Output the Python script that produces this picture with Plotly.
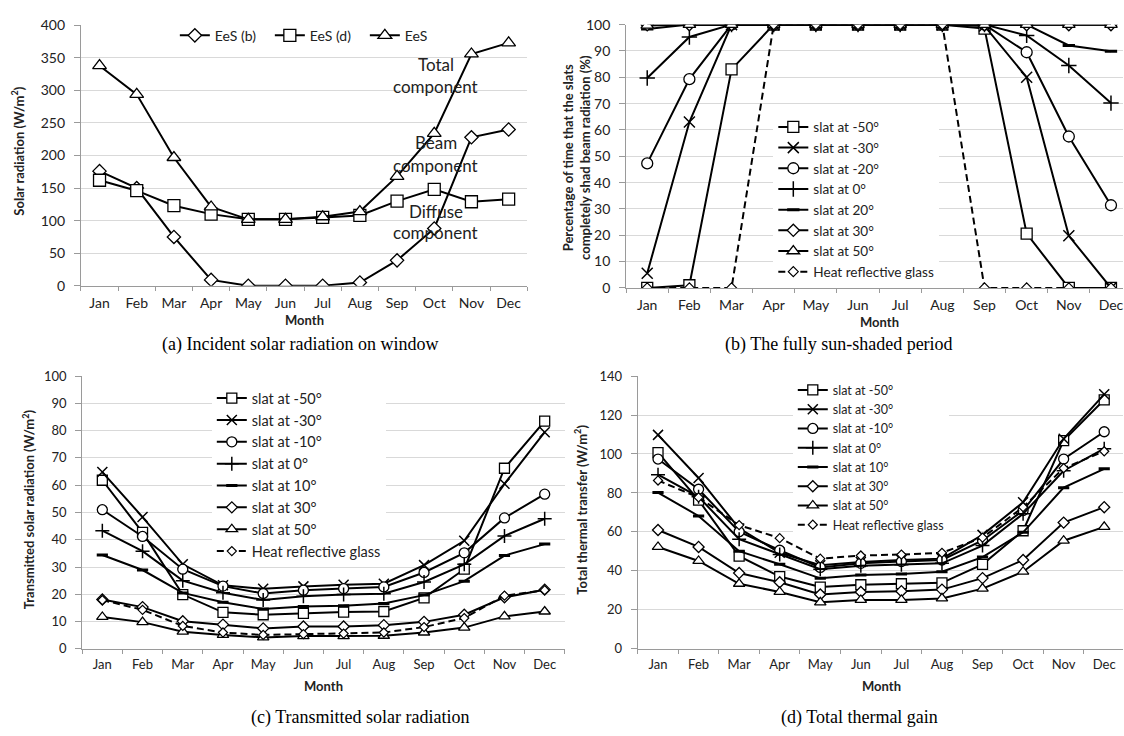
import plotly.graph_objects as go

months = ["Jan", "Feb", "Mar", "Apr", "May", "Jun", "Jul", "Aug", "Sep", "Oct", "Nov", "Dec"]

# ---------- (a) Incident solar radiation on window ----------
a_names = ["EeS (b)", "EeS (d)", "EeS"]
a_beam = [176, 150, 75, 9, 0, 0, 0, 5, 39, 88, 228, 240]
a_diffuse = [162, 146, 123, 110, 102, 102, 105, 108, 130, 148, 129, 133]
a_total = [338, 294, 197, 121, 102, 102, 106, 114, 168, 234, 356, 373]

# ---------- (b) fully sun-shaded period (%) ----------
b_names = ["slat at -50°", "slat at -30°", "slat at -20°", "slat at 0°",
           "slat at 20°", "slat at 30°", "slat at 50°", "Heat reflective glass"]
b_m50 = [0, 1, 83, 100, 100, 100, 100, 100, 98.5, 20.6, 0, 0]
b_m30 = [5.6, 63, 100, 100, 100, 100, 100, 100, 99.5, 80, 19.8, 0]
b_m20 = [47.3, 79.3, 100, 100, 100, 100, 100, 100, 100, 89.5, 57.5, 31.4]
b_0 = [79.7, 95.3, 100, 100, 100, 100, 100, 100, 100, 95.9, 84.5, 70.2]
b_20 = [98.3, 100, 100, 100, 100, 100, 100, 100, 100, 100, 92.1, 89.9]
b_30 = [100, 100, 100, 100, 100, 100, 100, 100, 100, 100, 100, 100]
b_50 = [99.7, 100, 100, 100, 100, 100, 100, 100, 100, 100, 100, 100]
b_hrg = [0, 0, 0, 100, 100, 100, 100, 100, 0, 0, 0, 0]

# ---------- (c) Transmitted solar radiation ----------
c_names = ["slat at -50°", "slat at -30°", "slat at -10°", "slat at 0°",
           "slat at 10°", "slat at 30°", "slat at 50°", "Heat reflective glass"]
c_m50 = [61.8, 42.7, 19.9, 13.4, 12.5, 13.0, 13.5, 13.7, 18.7, 29.2, 66.2, 83.5]
c_m30 = [64.8, 48.3, 31.0, 23.3, 22.0, 22.9, 23.5, 23.9, 30.7, 39.6, 60.5, 79.4]
c_m10 = [51.0, 41.2, 29.2, 23.0, 20.3, 21.5, 22.1, 22.7, 28.0, 35.2, 48.0, 56.7]
c_0 = [43.3, 35.8, 25.0, 20.6, 17.9, 19.3, 19.9, 20.2, 24.5, 31.0, 41.4, 47.7]
c_10 = [34.4, 28.9, 20.5, 17.1, 14.6, 15.5, 15.8, 16.6, 19.7, 24.8, 34.2, 38.4]
c_30 = [18.1, 15.3, 10.1, 8.9, 7.5, 8.2, 8.2, 8.7, 9.9, 12.5, 18.9, 21.7]
c_50 = [11.7, 9.8, 6.3, 5.1, 4.2, 4.7, 4.7, 4.8, 6.0, 7.8, 11.9, 13.7]
c_hrg = [17.9, 14.3, 8.4, 6.0, 5.1, 5.4, 5.6, 6.0, 8.0, 11.3, 19.5, 21.5]

# ---------- (d) Total thermal gain ----------
d_names = c_names
d_m50 = [100.7, 76.3, 47.6, 37.1, 31.7, 32.9, 33.4, 33.9, 43.4, 60.6, 106.9, 127.8]
d_m30 = [109.8, 87.7, 61.8, 49.3, 42.9, 44.6, 45.6, 46.3, 58.5, 75.2, 107.8, 130.6]
d_m10 = [97.4, 81.9, 60.1, 50.6, 41.8, 43.9, 44.8, 45.6, 55.6, 71.0, 97.4, 111.4]
d_0 = [89.4, 78.0, 56.3, 48.4, 40.9, 42.6, 43.1, 43.9, 53.0, 69.3, 91.4, 102.7]
d_10 = [80.2, 68.2, 50.1, 43.4, 36.2, 37.9, 38.4, 39.6, 47.1, 59.8, 82.7, 92.4]
d_30 = [61.0, 52.3, 38.9, 34.2, 27.9, 29.2, 29.6, 30.4, 36.3, 45.6, 64.8, 72.7]
d_50 = [52.3, 45.1, 33.4, 29.2, 23.9, 25.1, 25.1, 25.9, 30.9, 39.6, 55.5, 62.6]
d_hrg = [86.4, 77.7, 63.5, 56.8, 46.3, 47.9, 48.4, 49.3, 57.1, 72.7, 92.7, 101.4]

captions = ["(a) Incident solar radiation on window", "(b) The fully sun-shaded period",
            "(c) Transmitted solar radiation", "(d) Total thermal gain"]

FONT = "Lato"
BLACK = "#000000"
GRID = "#d9d9d9"
AXIS = "#9a9a9a"
W, H = 1124, 736


def marker_style(kind, size):
    if kind == "square":
        return dict(symbol="square", size=size, color="white", line=dict(color=BLACK, width=1.3))
    if kind == "x":
        return dict(symbol="x-thin", size=size, color=BLACK, line=dict(color=BLACK, width=1.5))
    if kind == "circle":
        return dict(symbol="circle", size=size, color="white", line=dict(color=BLACK, width=1.3))
    if kind == "plus":
        return dict(symbol="cross-thin", size=size, color=BLACK, line=dict(color=BLACK, width=1.5))
    if kind == "dash":
        return dict(symbol="line-ew", size=size * 0.8, color=BLACK, line=dict(color=BLACK, width=3))
    if kind == "diamond":
        return dict(symbol="diamond", size=size * 0.85, color="white", line=dict(color=BLACK, width=1.3))
    if kind == "triangle":
        return dict(symbol="triangle-up", size=size, color="white", line=dict(color=BLACK, width=1.3))
    if kind == "hrg":
        return dict(symbol="diamond", size=size * 0.7, color="white", line=dict(color=BLACK, width=1.2))


fig = go.Figure()


def add(x_ax, y_ax, name, vals, kind, size, legend):
    dash = "7px,4px" if kind == "hrg" else "solid"
    fig.add_trace(go.Scatter(
        x=months, y=vals, name=name, mode="lines+markers",
        line=dict(color=BLACK, width=2, dash=dash),
        marker=marker_style(kind, size),
        xaxis=x_ax, yaxis=y_ax, legend=legend, showlegend=True,
    ))


slat_kinds = ["square", "x", "circle", "plus", "dash", "diamond", "triangle", "hrg"]

for name, vals, kind in zip(a_names, [a_beam, a_diffuse, a_total], ["diamond", "square", "triangle"]):
    add("x", "y", name, vals, kind, 12, "legend")
for name, vals, kind in zip(b_names, [b_m50, b_m30, b_m20, b_0, b_20, b_30, b_50, b_hrg], slat_kinds):
    add("x2", "y2", name, vals, kind, 11, "legend2")
for name, vals, kind in zip(c_names, [c_m50, c_m30, c_m10, c_0, c_10, c_30, c_50, c_hrg], slat_kinds):
    add("x3", "y3", name, vals, kind, 10, "legend3")
for name, vals, kind in zip(d_names, [d_m50, d_m30, d_m10, d_0, d_10, d_30, d_50, d_hrg], slat_kinds):
    add("x4", "y4", name, vals, kind, 10, "legend4")


def px_x(p):
    return p / W


def px_y(p):
    return 1 - p / H


def xaxis(domain, rng, fs):
    return dict(domain=domain, range=rng, type="category", showgrid=False, showline=True,
                linecolor=AXIS, linewidth=1, ticks="outside", tickson="boundaries", ticklen=4,
                tickcolor=AXIS, tickfont=dict(family=FONT, size=fs, color="#222"),
                ticklabelstandoff=4, fixedrange=True)


def yaxis(domain, rng, dtick, fs, anchor):
    return dict(domain=domain, range=rng, dtick=dtick, showgrid=True, gridcolor=GRID, gridwidth=1,
                showline=True, linecolor=AXIS, linewidth=1, ticks="outside", ticklen=6,
                tickcolor=AXIS, zeroline=False, tickfont=dict(family=FONT, size=fs, color="#222"),
                ticklabelstandoff=6, anchor=anchor, fixedrange=True)


legend_common = dict(bgcolor="white", borderwidth=0, xanchor="left", yanchor="top",
                     tracegroupgap=0, itemclick=False)

fig.update_layout(
    width=W, height=H, margin=dict(l=0, r=0, t=0, b=0),
    paper_bgcolor="white", plot_bgcolor="white",
    font=dict(family=FONT, color=BLACK),
    hovermode=False,
    xaxis=xaxis([px_x(81), px_x(527.7)], [-0.5, 11.5], 14) | dict(anchor="y"),
    yaxis=yaxis([px_y(283.3), px_y(16.7)], [0, 400], 50, 14, "x"),
    xaxis2=xaxis([px_x(626.7), 1.0], [-0.5, 11.285], 14) | dict(anchor="y2"),
    yaxis2=yaxis([px_y(285.5), px_y(16)], [0, 100], 10, 14, "x2"),
    xaxis3=xaxis([px_x(82.3), px_x(565.3)], [-0.5, 11.5], 13) | dict(anchor="y3"),
    yaxis3=yaxis([px_y(655), px_y(375.7)], [0, 100], 10, 13, "x3"),
    xaxis4=xaxis([px_x(638.3), 1.0], [-0.5, 11.463], 13) | dict(anchor="y4"),
    yaxis4=yaxis([px_y(655), px_y(375.7)], [0, 140], 20, 13, "x4"),
    legend=legend_common | dict(orientation="h", x=px_x(175), y=px_y(11), entrywidth=50,
                                font=dict(family=FONT, size=14, color="#222"), bgcolor="rgba(0,0,0,0)"),
    legend2=legend_common | dict(x=px_x(774), y=px_y(105), font=dict(family=FONT, size=13.6, color="#222")),
    legend3=legend_common | dict(x=px_x(212), y=px_y(382), font=dict(family=FONT, size=14.5, color="#222")),
    legend4=legend_common | dict(x=px_x(793.5), y=px_y(375), font=dict(family=FONT, size=12.5, color="#222")),
    showlegend=True,
)

ann = []


def text(x, y, s, size, bold=False, angle=0, family=FONT, color="#222"):
    ann.append(dict(x=px_x(x), y=px_y(y), xref="paper", yref="paper", text=("<b>%s</b>" % s) if bold else s,
                    showarrow=False, textangle=angle, xanchor="center", yanchor="middle",
                    font=dict(family=family, size=size, color=color)))


# y-axis titles
text(18, 145, "Solar radiation (W/m<sup>2</sup>)", 13, bold=True, angle=-90)
text(577, 152, "Percentage of time that the slats<br>completely shad beam radiation (%)", 13, bold=True, angle=-90)
text(28, 512, "Transmitted solar radiation (W/m<sup>2</sup>)", 13, bold=True, angle=-90)
text(581, 512, "Total thermal transfer (W/m<sup>2</sup>)", 13, bold=True, angle=-90)
# x-axis titles
text((81 + 527.7) / 2, 318, "Month", 13, bold=True)
text((626.7 + 1133) / 2, 320, "Month", 13, bold=True)
text((82.3 + 565.3) / 2, 693, "Month", 13, bold=True)
text((638.3 + 1125.5) / 2, 693, "Month", 13, bold=True)
# in-plot labels of panel (a)
text(436, 57, "Total", 17)
text(436, 79, "component", 17)
text(436, 137, "Beam", 17)
text(436, 160, "component", 17)
text(436, 207, "Diffuse", 17)
text(436, 229, "component", 17)
# captions
text(300, 343, captions[0], 18, family="Liberation Serif", color=BLACK)
text(840, 343, captions[1], 18, family="Liberation Serif", color=BLACK)
text(360, 725, captions[2], 18, family="Liberation Serif", color=BLACK)
text(860, 725, captions[3], 18, family="Liberation Serif", color=BLACK)

fig.update_layout(annotations=ann)
fig.write_html("out.html", config={"displayModeBar": False},
               post_script="document.body.style.margin='0';")
